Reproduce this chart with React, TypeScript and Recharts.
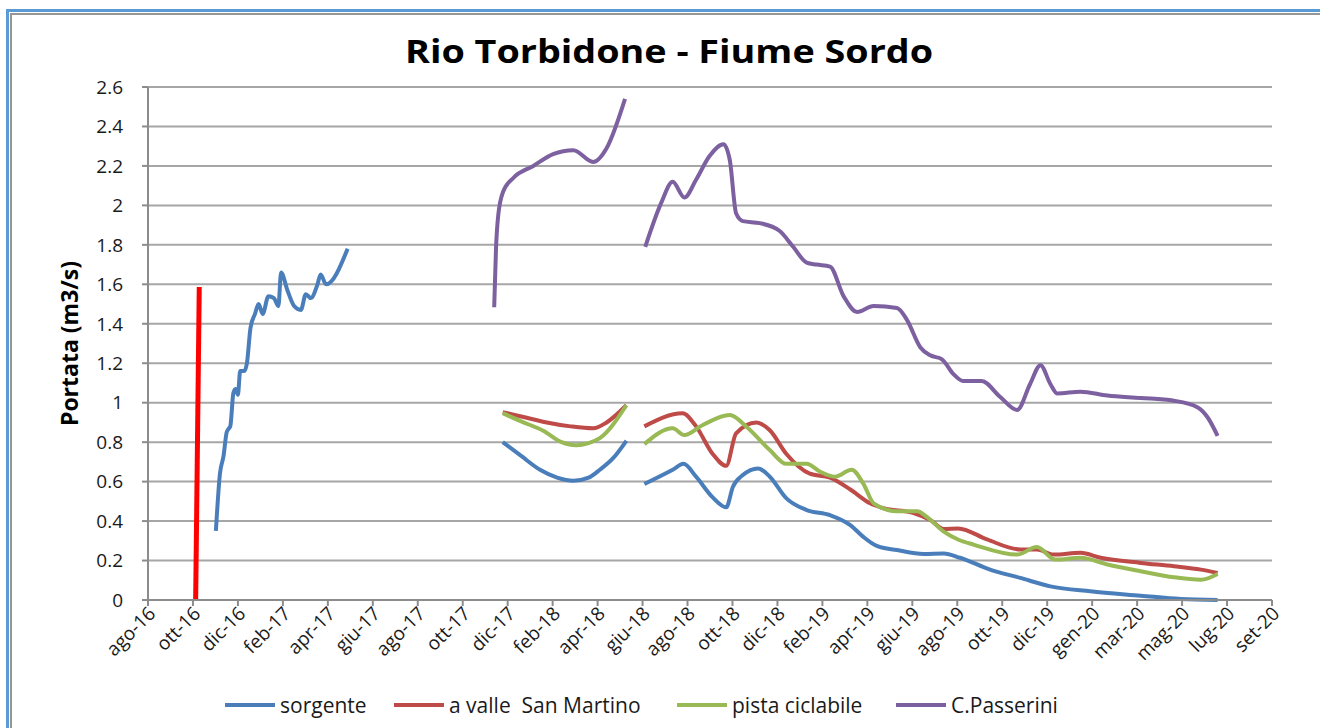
import { LineChart, Line, XAxis, YAxis, CartesianGrid, Legend } from "recharts";

// x positions are in "tick units": 0 = ago-16, 1 = ott-16, ... 25 = set-20
const monthLabels = [
  "ago-16", "ott-16", "dic-16", "feb-17", "apr-17", "giu-17", "ago-17", "ott-17",
  "dic-17", "feb-18", "apr-18", "giu-18", "ago-18", "ott-18", "dic-18", "feb-19",
  "apr-19", "giu-19", "ago-19", "ott-19", "dic-19", "gen-20", "mar-20", "mag-20",
  "lug-20", "set-20",
];
const xTicks = monthLabels.map((_, i) => i);
const yTicks = [0, 0.2, 0.4, 0.6, 0.8, 1, 1.2, 1.4, 1.6, 1.8, 2, 2.2, 2.4, 2.6];

type Pt = [number, number] | null;

// null = gap between measurement campaigns
const sorgente: Pt[] = [
  [1.51, 0.35], [1.6, 0.64], [1.68, 0.73], [1.75, 0.85], [1.8, 0.87], [1.83, 0.88],
  [1.9, 1.05], [1.95, 1.07], [2.0, 1.04], [2.05, 1.16], [2.14, 1.16], [2.2, 1.2],
  [2.28, 1.38], [2.38, 1.45], [2.46, 1.5], [2.55, 1.45], [2.68, 1.54], [2.8, 1.53],
  [2.9, 1.49], [2.96, 1.66], [3.1, 1.57], [3.25, 1.49], [3.4, 1.47], [3.51, 1.55],
  [3.62, 1.53], [3.77, 1.6], [3.84, 1.65], [3.96, 1.6], [4.44, 1.78],
  null,
  [7.89, 0.8], [8.3, 0.73], [8.72, 0.66], [9.1, 0.62], [9.46, 0.604], [9.8, 0.62],
  [10.05, 0.66], [10.35, 0.72], [10.64, 0.807],
  null,
  [11.04, 0.588], [11.67, 0.66], [11.91, 0.69], [12.19, 0.625], [12.56, 0.52],
  [12.86, 0.47], [13.01, 0.574], [13.23, 0.633], [13.57, 0.667], [13.83, 0.625],
  [14.2, 0.515], [14.65, 0.456], [15.17, 0.43], [15.62, 0.38], [15.91, 0.32],
  [16.21, 0.274], [16.66, 0.253], [17.25, 0.233], [17.7, 0.236], [18.06, 0.214],
  [18.73, 0.154], [19.4, 0.112], [20.07, 0.069], [20.96, 0.044], [22.08, 0.022],
  [22.97, 0.005], [23.79, 0.0],
];

const aValle: Pt[] = [
  [7.89, 0.952], [8.4, 0.925], [8.87, 0.9], [9.4, 0.88], [9.9, 0.87], [10.2, 0.9],
  [10.64, 0.987],
  null,
  [11.04, 0.88], [11.89, 0.946], [12.19, 0.88], [12.56, 0.74], [12.86, 0.68],
  [13.08, 0.845], [13.53, 0.9], [13.83, 0.86], [14.2, 0.74], [14.72, 0.64],
  [15.17, 0.62], [15.62, 0.56], [16.06, 0.49], [16.36, 0.465], [17.03, 0.44],
  [17.4, 0.405], [17.7, 0.36], [18.02, 0.363], [18.66, 0.307], [19.4, 0.256],
  [19.77, 0.256], [20.14, 0.23], [20.74, 0.239], [21.19, 0.214], [22.08, 0.188],
  [22.82, 0.171], [23.42, 0.154], [23.79, 0.137],
];

const pistaCiclabile: Pt[] = [
  [7.89, 0.947], [8.3, 0.905], [8.79, 0.858], [9.2, 0.8], [9.53, 0.784], [9.8, 0.795],
  [10.05, 0.82], [10.64, 0.987],
  null,
  [11.04, 0.79], [11.67, 0.87], [11.93, 0.836], [12.34, 0.887], [12.94, 0.937],
  [13.31, 0.878], [13.83, 0.76], [14.2, 0.69], [14.65, 0.69], [14.95, 0.65],
  [15.28, 0.625], [15.65, 0.66], [15.91, 0.59], [16.14, 0.49], [16.66, 0.45],
  [17.11, 0.45], [17.33, 0.42], [17.7, 0.346], [18.04, 0.304], [18.36, 0.281],
  [19.33, 0.23], [19.77, 0.268], [20.18, 0.205], [20.74, 0.214], [21.34, 0.18],
  [22.08, 0.146], [22.82, 0.115], [23.42, 0.103], [23.79, 0.132],
];

const passerini: Pt[] = [
  [7.7, 1.484], [7.74, 1.78], [7.79, 1.95], [7.9, 2.07], [8.13, 2.14], [8.57, 2.2],
  [9.01, 2.26], [9.46, 2.28], [9.9, 2.22], [10.2, 2.29], [10.61, 2.54],
  null,
  [11.06, 1.79], [11.41, 2.01], [11.67, 2.12], [11.93, 2.04], [12.19, 2.13],
  [12.49, 2.25], [12.8, 2.31], [12.94, 2.23], [13.08, 1.96], [13.23, 1.92],
  [13.61, 1.91], [14.05, 1.87], [14.35, 1.79], [14.65, 1.71], [14.87, 1.7],
  [15.17, 1.69], [15.47, 1.54], [15.77, 1.46], [16.14, 1.49], [16.66, 1.48],
  [16.88, 1.42], [17.18, 1.28], [17.4, 1.24], [17.66, 1.22], [17.91, 1.146],
  [18.13, 1.11], [18.54, 1.11], [18.95, 1.03], [19.33, 0.963], [19.62, 1.095],
  [19.85, 1.19], [20.07, 1.095], [20.22, 1.047], [20.74, 1.056], [21.34, 1.036],
  [22.08, 1.024], [22.82, 1.01], [23.35, 0.976], [23.57, 0.925], [23.79, 0.832],
];

// bright red marker, not in the legend
const marker: Pt[] = [[1.06, 0], [1.14, 1.586]];

const toRows = (pts: Pt[]) =>
  pts.map((p, i) =>
    p ? { t: p[0], v: p[1] } : { t: (pts[i - 1]![0] + pts[i + 1]![0]) / 2, v: null }
  );

const series = [
  { name: "sorgente", data: sorgente, color: "#4A7EBB" },
  { name: "a valle  San Martino", data: aValle, color: "#BE4B48" },
  { name: "pista ciclabile", data: pistaCiclabile, color: "#98B954" },
  { name: "C.Passerini", data: passerini, color: "#7D60A0" },
];
const legendWidths = [169, 283, 219, 180];

const FONT = "'Open Sans', sans-serif";

function XTick({ x, y, payload }: any) {
  return (
    <g transform={`translate(${x + 4},${y + 2}) rotate(-45)`}>
      <text x={0} y={0} dy="0.35em" textAnchor="end" fontSize={19} fontFamily={FONT} fill="#1a1a1a">
        {monthLabels[payload.value]}
      </text>
    </g>
  );
}

function LegendRow() {
  return (
    <div style={{ display: "flex", height: 30, alignItems: "center", paddingLeft: 225, fontFamily: FONT, fontSize: 21, color: "#1a1a1a" }}>
      {series.map((s, i) => (
        <div key={s.name} style={{ display: "flex", alignItems: "center", width: legendWidths[i], whiteSpace: "pre" }}>
          <span style={{ display: "inline-block", width: 50, height: 4, background: s.color, marginRight: 5 }} />
          <span>{s.name}</span>
        </div>
      ))}
    </div>
  );
}

export default function App() {
  return (
    <div style={{ position: "absolute", left: 0, top: 0, width: 1320, height: 728, overflow: "hidden", background: "#fff" }}>
      <div style={{ position: "absolute", left: 6, top: 9, width: 1400, height: 800, borderLeft: "3px solid #5B9BD5", borderTop: "3px solid #5B9BD5" }} />
      <div style={{ position: "absolute", left: 10, top: 13, width: 1400, height: 800, borderLeft: "2px solid #969696", borderTop: "2px solid #969696" }} />
      <svg width={1320} height={80} style={{ position: "absolute", left: 0, top: 0 }}>
        <text x={669} y={63} textAnchor="middle" textLength={528} lengthAdjust="spacingAndGlyphs" fontFamily={FONT} fontWeight={700} fontSize={33} fill="#000">
          Rio Torbidone - Fiume Sordo
        </text>
      </svg>
      <div style={{ position: "absolute", left: 0, top: 0 }}>
        <LineChart width={1320} height={728} margin={{ top: 87, right: 48, bottom: 0, left: 0 }}>
          <CartesianGrid vertical={false} stroke="#A6A6A6" strokeWidth={2} />
          <XAxis
            type="number"
            dataKey="t"
            domain={[0, 25]}
            ticks={xTicks}
            interval={0}
            allowDataOverflow
            height={98}
            tickSize={6}
            tickMargin={2}
            tick={<XTick />}
            stroke="#8C8C8C"
            strokeWidth={2}
          />
          <YAxis
            type="number"
            domain={[0, 2.6]}
            ticks={yTicks}
            interval={0}
            width={148}
            tickSize={6}
            tickMargin={19}
            tick={{ fontSize: 19, fontFamily: FONT, fill: "#1a1a1a" }}
            tickFormatter={(v: number) => String(Number(v.toFixed(1)))}
            stroke="#8C8C8C"
            strokeWidth={2}
            label={{
              value: "Portata (m3/s)",
              angle: -90,
              position: "insideLeft",
              offset: 70,
              style: { textAnchor: "middle", fontFamily: FONT, fontWeight: 700, fontSize: 23, fill: "#000" },
            }}
          />
          <Legend verticalAlign="bottom" wrapperStyle={{ bottom: 8, left: 0, width: 1320 }} content={() => <LegendRow />} />
          {series.map((s) => (
            <Line
              key={s.name}
              name={s.name}
              data={toRows(s.data)}
              dataKey="v"
              type="monotone"
              stroke={s.color}
              strokeWidth={4}
              dot={false}
              connectNulls={false}
              isAnimationActive={false}
            />
          ))}
          <Line
            name="marker"
            data={toRows(marker)}
            dataKey="v"
            type="linear"
            stroke="#FF0000"
            strokeWidth={5}
            dot={false}
            legendType="none"
            isAnimationActive={false}
          />
        </LineChart>
      </div>
    </div>
  );
}
